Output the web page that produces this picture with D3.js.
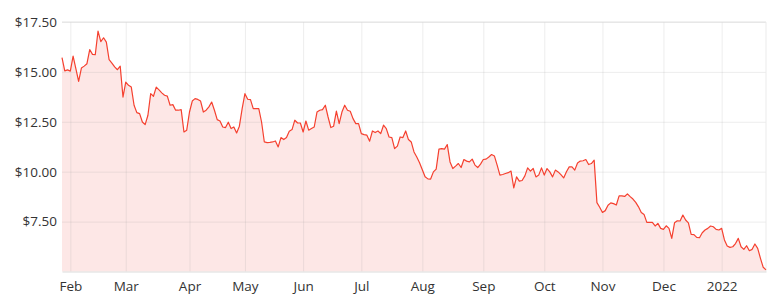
<!DOCTYPE html>
<html>
<head>
<meta charset="utf-8">
<script src="https://cdn.jsdelivr.net/npm/d3@7"></script>
<style>
  body { margin: 0; background: #fff; }
  #chart { width: 778px; height: 304px; }
  .tick text { font-family: "Open Sans", "Noto Sans", sans-serif; fill: #333; }
</style>
</head>
<body>
<div id="chart"></div>
<script>
// Data: one closing price per trading day, late Jan 2021 -> late Jan 2022
const prices = [
  15.71, 15.05, 15.10, 15.04, 15.79, 15.16, 14.52, 15.19, 15.29, 15.41,
  16.12, 15.88, 15.86, 17.04, 16.52, 16.71, 16.49, 15.61, 15.44, 15.25,
  15.11, 15.29, 13.74, 14.49, 14.33, 14.24, 13.33, 12.96, 12.91, 12.49,
  12.36, 12.83, 13.91, 13.78, 14.24, 14.10, 13.95, 13.83, 13.79, 13.33,
  13.36, 13.08, 13.08, 13.11, 11.99, 12.08, 12.99, 13.54, 13.66, 13.62,
  13.54, 12.99, 13.08, 13.25, 13.49, 13.08, 12.61, 12.54, 12.24, 12.21,
  12.48, 12.16, 12.24, 11.94, 12.28, 13.16, 13.91, 13.63, 13.61, 13.16,
  13.16, 13.16, 12.49, 11.49, 11.46, 11.47, 11.49, 11.54, 11.24, 11.71,
  11.61, 11.71, 12.03, 12.11, 12.58, 12.44, 12.44, 11.99, 12.54, 12.08,
  12.16, 12.24, 12.99, 13.08, 13.11, 13.33, 12.74, 12.21, 12.28, 13.04,
  12.41, 12.99, 13.33, 13.08, 13.03, 12.66, 12.41, 12.41, 11.91, 11.86,
  11.83, 11.53, 12.04, 11.96, 12.04, 11.91, 12.33, 12.16, 11.74, 11.71,
  11.16, 11.28, 11.74, 11.71, 12.04, 11.61, 11.49, 10.99, 10.74, 10.45,
  10.10, 9.75, 9.64, 9.63, 9.99, 10.13, 11.13, 11.16, 11.13, 11.36,
  10.49, 10.16, 10.28, 10.41, 10.21, 10.61, 10.53, 10.49, 10.63, 10.33,
  10.21, 10.38, 10.61, 10.63, 10.74, 10.86, 10.79, 10.33, 9.83, 9.86,
  9.91, 9.95, 10.03, 9.19, 9.74, 9.53, 9.56, 9.79, 10.19, 10.03,
  10.16, 9.74, 9.83, 10.19, 9.83, 10.16, 9.99, 9.74, 10.08, 9.99,
  9.85, 9.69, 10.00, 10.24, 10.24, 10.08, 10.44, 10.53, 10.55, 10.61,
  10.36, 10.41, 10.58, 8.45, 8.22, 7.96, 8.05, 8.32, 8.44, 8.40,
  8.33, 8.79, 8.79, 8.76, 8.89, 8.75, 8.63, 8.46, 8.24, 7.96,
  7.86, 7.46, 7.46, 7.46, 7.28, 7.41, 7.16, 7.11, 7.29, 7.16,
  6.66, 7.44, 7.54, 7.53, 7.83, 7.58, 7.44, 6.86, 6.85, 6.71,
  6.69, 6.94, 7.08, 7.16, 7.28, 7.24, 7.11, 7.08, 7.16, 6.58,
  6.28, 6.21, 6.24, 6.40, 6.66, 6.24, 6.11, 6.29, 6.04, 6.11,
  6.38, 6.16, 5.66, 5.21, 5.08
];

// x tick labels and the trading-day index where each month starts
const monthLabels = ["Feb", "Mar", "Apr", "May", "Jun", "Jul", "Aug", "Sep", "Oct", "Nov", "Dec", "2022"];
const monthIndex = [3, 23, 46, 66, 87, 108, 130, 152, 174, 195, 217, 238];
const yTicks = [7.5, 10, 12.5, 15, 17.5];

const width = 778;
const height = 304;
const margin = { top: 22, right: 12, bottom: 32.5, left: 62 };

const svg = d3.select("#chart")
    .append("svg")
    .attr("width", width)
    .attr("height", height);

const x = d3.scaleLinear()
    .domain([0, prices.length - 1])
    .range([margin.left, width - margin.right]);

const y = d3.scaleLinear()
    .domain([5, 17.5])
    .range([height - margin.bottom, margin.top]);

// area fill under the line
const area = d3.area()
    .x((d, i) => x(i))
    .y0(y(5))
    .y1(d => y(d));

svg.append("path")
    .datum(prices)
    .attr("d", area)
    .attr("fill", "#fde7e6");

// grid lines
svg.append("g")
    .attr("transform", `translate(${margin.left},0)`)
    .call(d3.axisLeft(y).tickValues(yTicks)
        .tickSize(-(width - margin.left - margin.right))
        .tickFormat(""))
    .call(g => g.select(".domain").remove())
    .call(g => g.selectAll("line").attr("stroke", "#999").attr("stroke-opacity", 0.18));

svg.append("g")
    .attr("transform", `translate(0,${height - margin.bottom})`)
    .call(d3.axisBottom(x).tickValues(monthIndex)
        .tickSize(-(height - margin.top - margin.bottom))
        .tickFormat(""))
    .call(g => g.select(".domain").remove())
    .call(g => g.selectAll("line").attr("stroke", "#999").attr("stroke-opacity", 0.18));

// top border and right border
svg.append("line")
    .attr("x1", margin.left).attr("x2", width - margin.right)
    .attr("y1", margin.top).attr("y2", margin.top)
    .attr("stroke", "#e2e2e2");
svg.append("line")
    .attr("x1", width - margin.right).attr("x2", width - margin.right)
    .attr("y1", margin.top).attr("y2", height - margin.bottom)
    .attr("stroke", "#ebebeb");

// price line
const line = d3.line()
    .x((d, i) => x(i))
    .y(d => y(d));

svg.append("path")
    .datum(prices)
    .attr("d", line)
    .attr("fill", "none")
    .attr("stroke", "#f5402f")
    .attr("stroke-width", 1.2)
    .attr("stroke-linejoin", "round");

// axes with labels
svg.append("g")
    .attr("transform", `translate(${margin.left},0)`)
    .call(d3.axisLeft(y).tickValues(yTicks).tickSize(0).tickPadding(5)
        .tickFormat(d => "$" + d3.format(".2f")(d)))
    .call(g => g.select(".domain").remove())
    .call(g => g.selectAll("text").attr("font-size", 13.5));

svg.append("g")
    .attr("transform", `translate(0,${height - margin.bottom})`)
    .call(d3.axisBottom(x).tickValues(monthIndex).tickSize(0).tickPadding(10)
        .tickFormat((d, i) => monthLabels[i]))
    .call(g => g.select(".domain").attr("stroke", "#dcdcdc"))
    .call(g => g.selectAll("text").attr("font-size", 13.5));
</script>
</body>
</html>
